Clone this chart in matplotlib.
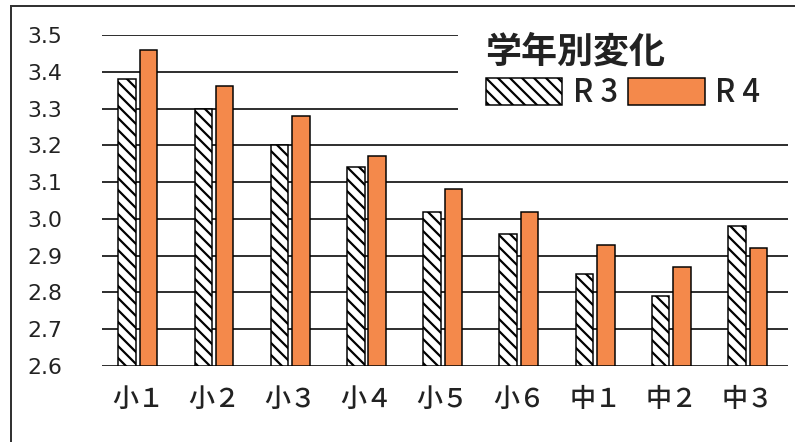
import matplotlib.pyplot as plt
from matplotlib.patches import Rectangle

grades = ["小１", "小２", "小３", "小４", "小５", "小６", "中１", "中２", "中３"]
r3 = [3.38, 3.30, 3.20, 3.14, 3.02, 2.96, 2.85, 2.79, 2.98]
r4 = [3.46, 3.36, 3.28, 3.17, 3.08, 3.02, 2.93, 2.87, 2.92]
yticks = [2.6, 2.7, 2.8, 2.9, 3.0, 3.1, 3.2, 3.3, 3.4, 3.5]

plt.rcParams["font.family"] = ["Noto Sans CJK JP", "DejaVu Sans"]
plt.rcParams["hatch.linewidth"] = 2.2

fig = plt.figure(figsize=(795 / 72, 442 / 72), dpi=72)
ax = fig.add_axes([102 / 795, 1 - 366 / 442, 686 / 795, 331 / 442])

x = list(range(len(grades)))
w = 0.23
off = 0.14
b3 = ax.bar([i - off for i in x], [v - 2.6 for v in r3], w, bottom=2.6,
            color="white", edgecolor="black", hatch="\\\\", linewidth=1.5,
            label="R 3", zorder=3)
b4 = ax.bar([i + off for i in x], [v - 2.6 for v in r4], w, bottom=2.6,
            color="#F4894B", edgecolor="black", linewidth=1.5,
            label="R 4", zorder=3)

ax.set_xlim(-0.47, 8.53)
ax.set_ylim(2.6, 3.5)
ax.set_yticks(yticks)
ax.set_yticklabels([f"{v:.1f}" for v in yticks], family="DejaVu Sans", fontsize=22)
ax.set_xticks(x)
ax.set_xticklabels(grades, fontsize=26, weight="medium")
ax.tick_params(axis="y", length=0, pad=40, colors="#222222")
ax.tick_params(axis="x", length=0, pad=20, colors="#222222")
ax.grid(axis="y", color="black", linewidth=1.6, zorder=1)
ax.set_axisbelow(True)
for s in ax.spines.values():
    s.set_visible(False)

# white area behind the legend that hides the grid lines
ax.add_patch(Rectangle((0.519, 0.755), 0.49, 0.3, transform=ax.transAxes,
                       facecolor="white", edgecolor="none", zorder=4, clip_on=False))

leg = ax.legend(handles=[b3, b4], ncol=2, frameon=False, loc="upper left",
                bbox_to_anchor=(0.532, 1.06),
                prop={"size": 31, "weight": "medium"},
                title="学年別変化", alignment="left",
                title_fontproperties={"size": 36, "weight": "bold"},
                handlelength=2.48, handleheight=0.97, handletextpad=0.35,
                columnspacing=0.3, borderpad=0.1, labelspacing=0.2)
leg.set_zorder(5)
for t in leg.get_texts():
    t.set_color("#222222")
leg.get_title().set_color("#222222")

# scanned frame: only left and top edges are visible
fig.add_artist(Rectangle((11 / 795, -0.1), 1.2, 1.1 - 6 / 442,
                         transform=fig.transFigure, facecolor="none",
                         edgecolor="#333333", linewidth=2))

fig.savefig("out.png", dpi=72)
